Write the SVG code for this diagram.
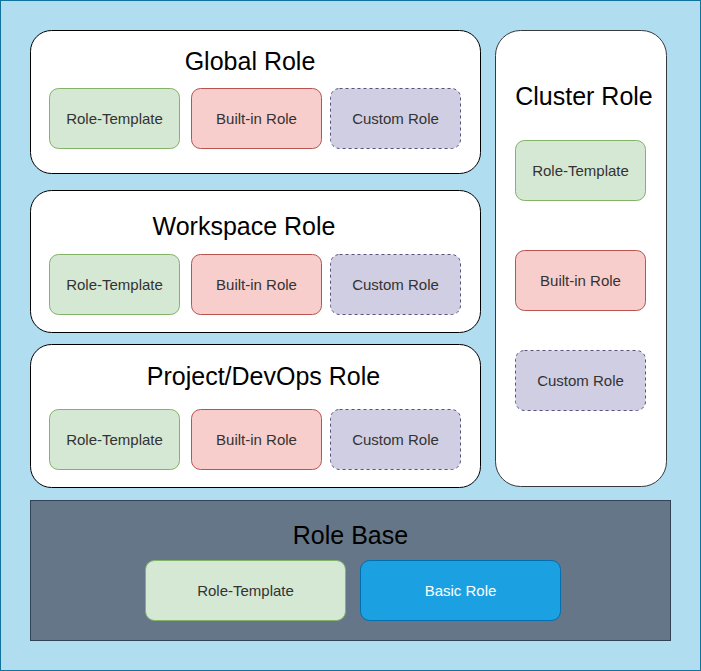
<svg xmlns="http://www.w3.org/2000/svg" width="701" height="671" viewBox="0 0 701 671">
<style>
text{font-family:"Liberation Sans",Arial,sans-serif;text-anchor:middle}
.t{font-size:25px;fill:#000}
.s{font-size:15px;fill:#333}
.grp{fill:#fff;stroke:#000;stroke-width:1}
.rt{fill:#d5e8d4;stroke:#82b366}
.bi{fill:#f8cecc;stroke:#b85450}
.cu{fill:#d0cee2;stroke:#56517e;stroke-dasharray:3 3}
</style>
<rect x="0.5" y="0.5" width="700" height="670" fill="#b1ddf0" stroke="#10739e"/>
<g id="global">
<rect class="grp" x="30.5" y="30.5" width="450" height="143" rx="21"/>
<text class="t" x="250" y="70">Global Role</text>
<rect class="rt" x="49.5" y="88.5" width="130" height="60" rx="9"/><text class="s" x="114.5" y="123.5">Role-Template</text>
<rect class="bi" x="191.5" y="88.5" width="130" height="60" rx="9"/><text class="s" x="256.5" y="123.5">Built-in Role</text>
<rect class="cu" x="330.5" y="88.5" width="130" height="60" rx="9"/><text class="s" x="395.5" y="123.5">Custom Role</text>
</g>
<g id="workspace">
<rect class="grp" x="30.5" y="190.5" width="450" height="142" rx="21"/>
<text class="t" x="244" y="235">Workspace Role</text>
<rect class="rt" x="49.5" y="254.5" width="130" height="60" rx="9"/><text class="s" x="114.5" y="289.5">Role-Template</text>
<rect class="bi" x="191.5" y="254.5" width="130" height="60" rx="9"/><text class="s" x="256.5" y="289.5">Built-in Role</text>
<rect class="cu" x="330.5" y="254.5" width="130" height="60" rx="9"/><text class="s" x="395.5" y="289.5">Custom Role</text>
</g>
<g id="project">
<rect class="grp" x="30.5" y="344.5" width="450" height="143" rx="21"/>
<text class="t" x="263.5" y="385">Project/DevOps Role</text>
<rect class="rt" x="49.5" y="409.5" width="130" height="60" rx="9"/><text class="s" x="114.5" y="444.5">Role-Template</text>
<rect class="bi" x="191.5" y="409.5" width="130" height="60" rx="9"/><text class="s" x="256.5" y="444.5">Built-in Role</text>
<rect class="cu" x="330.5" y="409.5" width="130" height="60" rx="9"/><text class="s" x="395.5" y="444.5">Custom Role</text>
</g>
<g id="cluster">
<rect x="495.5" y="30.5" width="171" height="456" rx="25" fill="#fff" stroke="#36393d"/>
<text class="t" x="584" y="105">Cluster Role</text>
<rect class="rt" x="515.5" y="140.5" width="130" height="60" rx="9"/><text class="s" x="580.5" y="175.5">Role-Template</text>
<rect class="bi" x="515.5" y="250.5" width="130" height="60" rx="9"/><text class="s" x="580.5" y="285.5">Built-in Role</text>
<rect class="cu" x="515.5" y="350.5" width="130" height="60" rx="9"/><text class="s" x="580.5" y="385.5">Custom Role</text>
</g>
<g id="rolebase">
<rect x="30.5" y="500.5" width="640" height="140" fill="#647687" stroke="#314354"/>
<text class="t" x="350.5" y="544">Role Base</text>
<rect class="rt" x="145.5" y="560.5" width="200" height="60" rx="9"/><text class="s" x="245.5" y="595.5">Role-Template</text>
<rect x="360.5" y="560.5" width="200" height="60" rx="9" fill="#1ba1e2" stroke="#006eaf"/><text class="s" x="460.5" y="595.5" style="fill:#fff">Basic Role</text>
</g>
<g id="connectors"/>
</svg>
